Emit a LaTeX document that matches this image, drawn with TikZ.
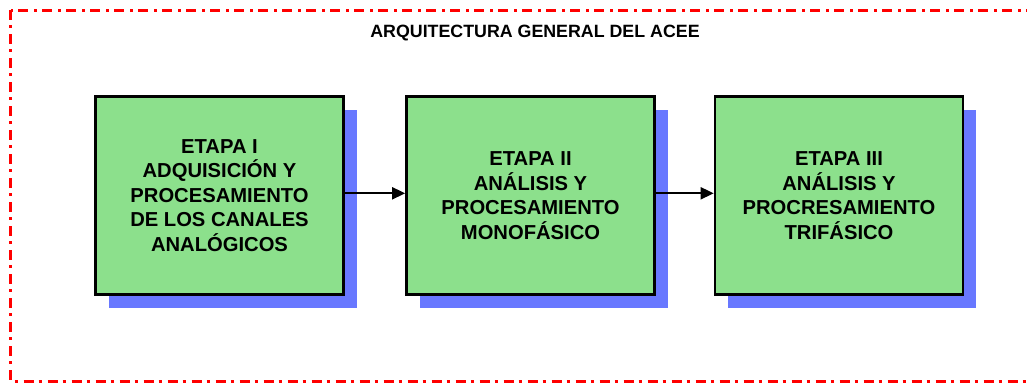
\documentclass[tikz,border=0pt]{standalone}
\usepackage{fontspec}
\setmainfont{Liberation Sans}
\usetikzlibrary{arrows.meta}
\definecolor{boxgreen}{RGB}{140,224,140}
\definecolor{shadowblue}{RGB}{104,120,255}
\definecolor{framered}{RGB}{255,0,0}
\tikzset{
  stagebox/.style={draw=black, line width=2.6pt, fill=boxgreen, minimum width=248pt, minimum height=198pt, inner sep=0pt, align=center, font=\bfseries\fontsize{20.2}{24.5}\selectfont},
  stageshadow/.style={fill=shadowblue, draw=none},
  flow/.style={line width=1.8pt, -{Triangle[length=13pt,width=12pt]}},
  frameline/.style={draw=framered, line width=3pt, dash pattern=on 10pt off 5pt on 3pt off 6pt}
}
\begin{document}
\begin{tikzpicture}[x=1pt,y=-1pt]
\useasboundingbox (0,0) rectangle (1027,383);
\path[frameline] (10.5,10) rectangle (1040,381);
\node[font=\bfseries\fontsize{17.8}{20}\selectfont, anchor=base] (title) at (535,37.5) {ARQUITECTURA GENERAL DEL ACEE};
% shadows
\fill[stageshadow] (109,110) rectangle (357,308);
\fill[stageshadow] (420,110) rectangle (668,308);
\fill[stageshadow] (728,110) rectangle (976,308);
% boxes
\node[stagebox] (s1) at (219.5,195.5) {ETAPA I\\ADQUISICIÓN Y\\PROCESAMIENTO\\DE LOS CANALES\\ANALÓGICOS};
\node[stagebox] (s2) at (530.5,195.5) {ETAPA II\\ANÁLISIS Y\\PROCESAMIENTO\\MONOFÁSICO};
\node[stagebox] (s3) at (839,195.5) {ETAPA III\\ANÁLISIS Y\\PROCRESAMIENTO\\TRIFÁSICO};
\draw[flow] ([yshift=2.2pt]s1.east) -- ([yshift=2.2pt]s2.west);
\draw[flow] ([yshift=2.2pt]s2.east) -- ([yshift=2.2pt]s3.west);
\end{tikzpicture}
\end{document}
